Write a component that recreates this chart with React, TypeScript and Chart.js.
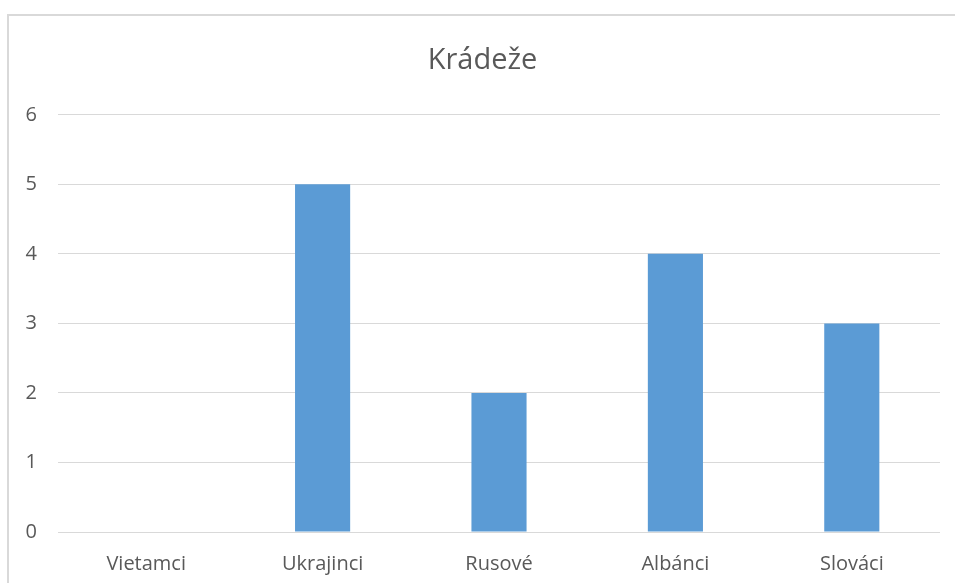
import React, { useEffect, useRef } from "react";
import { Chart, registerables } from "chart.js";

Chart.register(...registerables);

const categories = ["Vietamci", "Ukrajinci", "Rusové", "Albánci", "Slováci"];
const values = [0, 5, 2, 4, 3];
const chartTitle = "Krádeže";
const yMin = 0;
const yMax = 6;

export default function App() {
  const ref = useRef<HTMLCanvasElement | null>(null);

  useEffect(() => {
    if (!ref.current) return;
    const chart = new Chart(ref.current, {
      type: "bar",
      data: {
        labels: categories,
        datasets: [
          {
            label: chartTitle,
            data: values,
            backgroundColor: "#5B9BD5",
            borderWidth: 0,
            categoryPercentage: 1,
            barPercentage: 0.3125,
          },
        ],
      },
      options: {
        responsive: false,
        animation: false,
        layout: { padding: { left: 25, right: 15, top: 0, bottom: -13 } },
        plugins: {
          legend: { display: false },
          tooltip: { enabled: false },
          title: {
            display: true,
            text: chartTitle,
            color: "#595959",
            font: { family: "'Open Sans', sans-serif", size: 29, weight: "normal" },
            padding: { top: 43, bottom: 37 },
          },
        },
        scales: {
          x: {
            grid: { display: false, drawTicks: false },
            border: { display: false },
            ticks: {
              color: "#595959",
              font: { family: "'Open Sans', sans-serif", size: 20 },
              padding: 20,
              maxRotation: 0,
            },
          },
          y: {
            min: yMin,
            max: yMax,
            grid: { color: "#D9D9D9", lineWidth: 1, drawTicks: false },
            border: { display: false },
            ticks: {
              stepSize: 1,
              autoSkip: false,
              color: "#595959",
              font: { family: "'Open Sans', sans-serif", size: 20 },
              padding: 21,
            },
            afterFit: (scale: any) => {
              scale.width = 33;
            },
          },
        },
      },
    });
    return () => chart.destroy();
  }, []);

  return (
    <div
      style={{
        position: "fixed",
        left: 0,
        top: 0,
        width: 955,
        height: 583,
        overflow: "hidden",
        background: "#ffffff",
      }}
    >
      <div
        style={{
          position: "absolute",
          left: 7,
          top: 14,
          width: 1000,
          height: 700,
          borderTop: "2px solid #D9D9D9",
          borderLeft: "2px solid #D9D9D9",
        }}
      />
      <canvas
        ref={ref}
        width={955}
        height={583}
        style={{ position: "absolute", left: 0, top: 0, width: 955, height: 583 }}
      />
    </div>
  );
}
